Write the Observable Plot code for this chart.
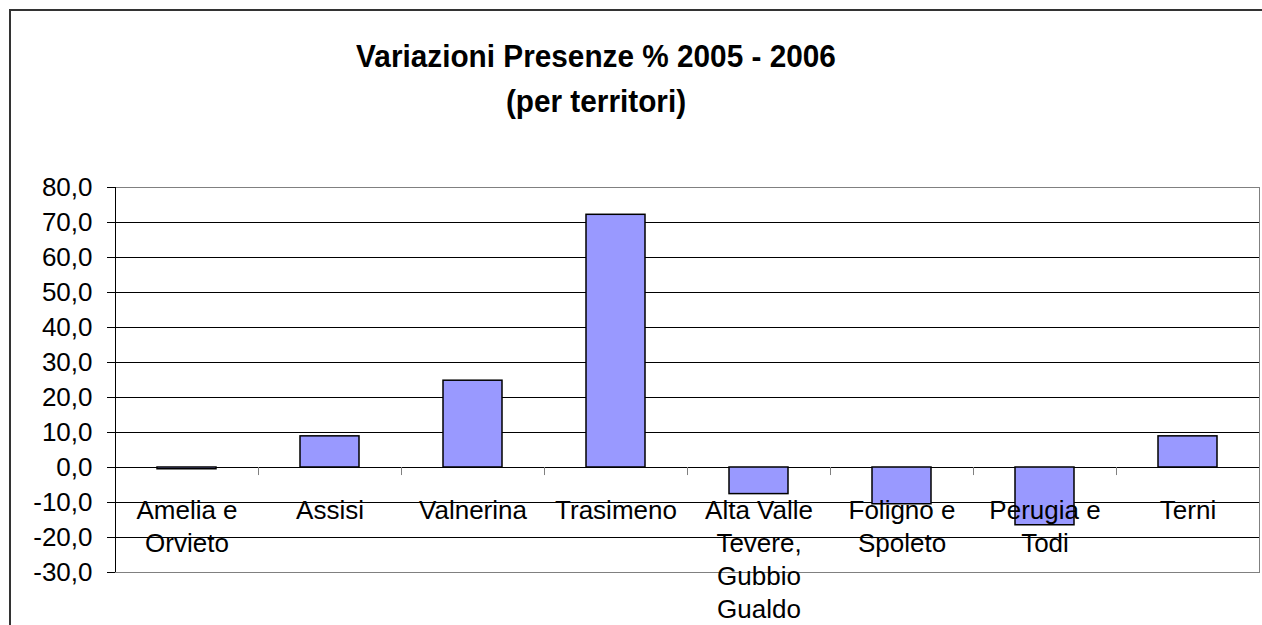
<!DOCTYPE html>
<html>
<head>
<meta charset="utf-8">
<script src="https://cdn.jsdelivr.net/npm/d3@7"></script>
<script src="https://cdn.jsdelivr.net/npm/@observablehq/plot@0.6"></script>
<style>
  html, body { margin: 0; padding: 0; background: #fff; overflow: hidden; }
  body { width: 1262px; height: 625px; position: relative; font-family: "Liberation Sans", Arial, sans-serif; }
  #border { position: absolute; left: 9px; top: 9px; width: 1400px; height: 800px; border: 2px solid #333; box-sizing: border-box; }
  #title { position: absolute; left: 0; width: 1192px; top: 34px; text-align: center; font-weight: bold; font-size: 32px; line-height: 45px; color: #000; transform: scaleX(0.93); transform-origin: 596px 0; }
  #chart { position: absolute; left: 0; top: 0; }
</style>
</head>
<body>
<div id="border"></div>
<div id="title">Variazioni Presenze % 2005 - 2006<br>(per territori)</div>
<div id="chart"></div>
<script>
const categories = ["Amelia e Orvieto", "Assisi", "Valnerina", "Trasimeno", "Alta Valle Tevere, Gubbio Gualdo", "Foligno e Spoleto", "Perugia e Todi", "Terni"];
const tickLabels = ["Amelia e\nOrvieto", "Assisi", "Valnerina", "Trasimeno", "Alta Valle\nTevere,\nGubbio\nGualdo", "Foligno e\nSpoleto", "Perugia e\nTodi", "Terni"];
const values = [-0.5, 8.9, 24.8, 72.2, -7.6, -10.5, -16.5, 8.9];
const yTicks = [-30, -20, -10, 0, 10, 20, 30, 40, 50, 60, 70, 80];

const data = categories.map((c, i) => ({cat: c, label: tickLabels[i], value: values[i]}));
const step = (1259 - 115) / categories.length;

const chart = Plot.plot({
  width: 1262,
  height: 625,
  marginLeft: 115,
  marginRight: 3,
  marginTop: 187,
  marginBottom: 53,
  style: {fontFamily: "Liberation Sans, Arial, sans-serif", fontSize: "26px", background: "transparent", overflow: "visible"},
  x: {domain: categories, paddingInner: 0.59, paddingOuter: 0.295, axis: null},
  y: {domain: [-30, 80], axis: null, label: null},
  marks: [
    Plot.ruleY(yTicks, {stroke: "#000", strokeWidth: 1}),
    Plot.frame({stroke: "#808080", strokeWidth: 1}),
    Plot.ruleX([categories[0]], {x: d => d, dx: -step / 2, stroke: "#000"}),
    Plot.barY(data, {x: "cat", y: "value", fill: "#9999FF", stroke: "#000", strokeWidth: 1.5}),
    Plot.ruleX(categories, {x: d => d, dx: step / 2, y1: () => 0, y2: () => -2.3, stroke: "#808080"}),
    Plot.axisY(yTicks, {label: null, tickSize: 8, tickPadding: 15, tickFormat: d => d.toFixed(1).replace(".", ","), fontSize: 26, stroke: "#000", fill: "#000"}),
    Plot.text(data, {x: "cat", y: () => 0, text: "label", lineAnchor: "top", dy: 28, lineHeight: 1.27, fontSize: 26, fill: "#000"})
  ]
});
document.getElementById("chart").appendChild(chart);
</script>
</body>
</html>
